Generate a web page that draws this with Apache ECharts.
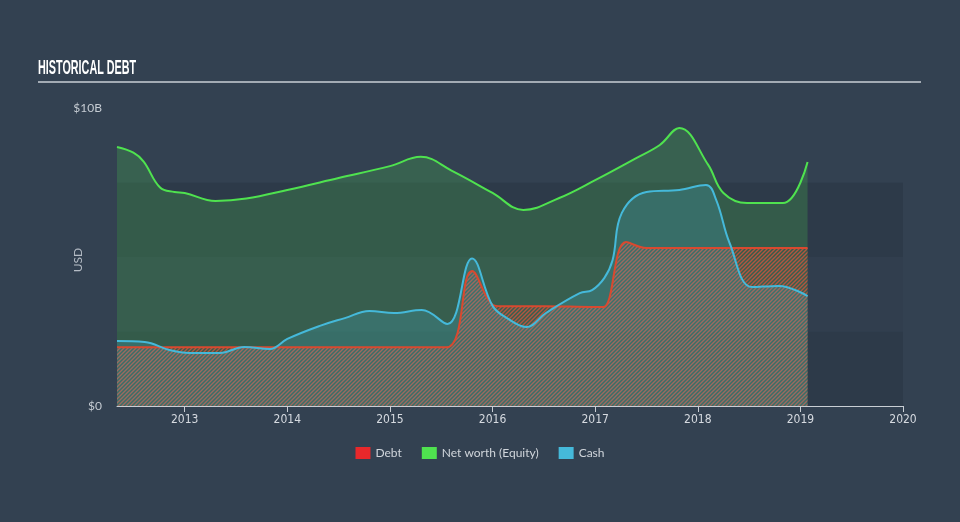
<!DOCTYPE html>
<html>
<head>
<meta charset="utf-8">
<script src="https://cdn.jsdelivr.net/npm/echarts@6/dist/echarts.min.js"></script>
<style>
html,body{margin:0;padding:0;background:#334151;}
#c{width:960px;height:522px;}
</style>
</head>
<body>
<div id="c"></div>
<script>
// ---- data (years as decimal, values in $B) ----
var equityYears = [2012.34, 2012.5, 2012.6, 2012.76, 2012.9, 2013.0, 2013.3, 2013.6, 2014.0, 2014.5, 2015.0, 2015.3, 2015.6, 2016.0, 2016.3, 2016.65, 2017.0, 2017.4, 2017.63, 2017.82, 2018.1, 2018.25, 2018.48, 2018.83, 2019.07];
var equityValues = [8.69, 8.5, 8.2, 7.33, 7.18, 7.15, 6.88, 6.96, 7.25, 7.65, 8.05, 8.36, 7.9, 7.15, 6.58, 6.98, 7.58, 8.32, 8.76, 9.33, 8.1, 7.15, 6.81, 6.81, 8.19];

var cashYears = [2012.34, 2012.61, 2012.85, 2013.05, 2013.34, 2013.58, 2013.83, 2014.0, 2014.31, 2014.56, 2014.8, 2015.04, 2015.31, 2015.56, 2015.8, 2016.0, 2016.14, 2016.33, 2016.52, 2016.85, 2016.97, 2017.09, 2017.17, 2017.26, 2017.5, 2017.82, 2018.08, 2018.18, 2018.31, 2018.53, 2018.79, 2019.07];
var cashValues = [2.18, 2.15, 1.88, 1.78, 1.78, 1.98, 1.91, 2.25, 2.68, 2.95, 3.19, 3.12, 3.22, 2.75, 4.95, 3.36, 2.95, 2.65, 3.12, 3.79, 3.89, 4.3, 4.9, 6.48, 7.18, 7.25, 7.42, 6.91, 5.47, 3.99, 4.03, 3.69];

var debtYears = [2012.34, 2013.0, 2014.0, 2015.0, 2015.55, 2015.8, 2016.0, 2016.08, 2016.5, 2017.0, 2017.08, 2017.3, 2017.5, 2018.0, 2018.5, 2019.07];
var debtValues = [1.97, 1.97, 1.97, 1.97, 1.97, 4.53, 3.4, 3.35, 3.35, 3.32, 3.32, 5.5, 5.3, 5.3, 5.3, 5.3];

var xTickLabels = [2013, 2014, 2015, 2016, 2017, 2018, 2019, 2020];
var yTickLabels = {0: '$0', 10: '$10B'};

function pairs(xs, ys) { return xs.map(function (x, i) { return [x, ys[i]]; }); }

// hatch pattern for debt area
var pc = document.createElement('canvas');
var P = 4;
pc.width = P; pc.height = P;
var g = pc.getContext('2d');
g.strokeStyle = 'rgba(222,84,60,0.75)';
g.lineWidth = 1.4;
g.beginPath();
g.moveTo(-1, 1); g.lineTo(1, -1);
g.moveTo(0, P); g.lineTo(P, 0);
g.moveTo(P - 1, P + 1); g.lineTo(P + 1, P - 1);
g.stroke();

var chart = echarts.init(document.getElementById('c'), null, {renderer: 'canvas'});
var axisFont = '"DejaVu Sans Condensed","Liberation Sans Narrow",sans-serif';
chart.setOption({
  backgroundColor: '#334151',
  animation: false,
  grid: {left: 117, right: 57, top: 108, bottom: 116},
  graphic: [
    {type: 'text', x: 38, y: 68, scaleX: 0.54, style: {text: 'HISTORICAL DEBT', fill: '#ffffff', textVerticalAlign: 'middle', font: 'bold 20px "Liberation Sans","DejaVu Sans",sans-serif'}},
    {type: 'line', shape: {x1: 38, y1: 82, x2: 921, y2: 82}, style: {stroke: '#a3abb4', lineWidth: 2}},
    {type: 'text', x: 78, y: 260, rotation: Math.PI / 2, style: {text: 'USD', fill: '#b5bcc5', textAlign: 'center', textVerticalAlign: 'middle', font: '12px Lato, sans-serif'}}
  ],
  legend: {
    bottom: 58, left: 'center', icon: 'rect', itemWidth: 15, itemHeight: 12, itemGap: 20, itemStyle: {borderWidth: 0},
    textStyle: {color: '#d0d5db', fontSize: 12, fontFamily: 'Lato, sans-serif'},
    data: [
      {name: 'Debt', itemStyle: {color: '#e8282b'}},
      {name: 'Net worth (Equity)', itemStyle: {color: '#4fe24f'}},
      {name: 'Cash', itemStyle: {color: '#45b9da'}}
    ]
  },
  xAxis: {
    type: 'value', min: 2012.34, max: 2020,
    axisLine: {show: true, lineStyle: {color: '#c9ced4', width: 1}},
    axisTick: {show: true, customValues: xTickLabels, length: 6, lineStyle: {color: '#c9ced4'}},
    axisLabel: {customValues: xTickLabels, color: '#d6dae0', fontSize: 12, fontFamily: axisFont, margin: 8, formatter: function (v) { return String(v); }},
    splitLine: {show: false}
  },
  yAxis: {
    type: 'value', min: 0, max: 10, interval: 2.5,
    axisLine: {show: false}, axisTick: {show: false},
    axisLabel: {color: '#c5cbd2', fontSize: 12, fontFamily: 'Lato, sans-serif', margin: 15,
      formatter: function (v) { return yTickLabels[v] !== undefined ? yTickLabels[v] : ''; }},
    splitLine: {show: false},
    splitArea: {show: true, areaStyle: {color: ['#2d3a49', '#313e4e', '#2d3a49', '#334151']}}
  },
  series: [
    {
      name: 'Net worth (Equity)', type: 'line', data: pairs(equityYears, equityValues),
      smooth: 0.4, showSymbol: false,
      itemStyle: {color: '#4fe24f'},
      lineStyle: {color: '#4fe24f', width: 2},
      areaStyle: {color: 'rgba(78,226,78,0.2)', opacity: 1}
    },
    {
      name: 'Debt', type: 'line', data: pairs(debtYears, debtValues),
      smooth: 0.4, showSymbol: false,
      itemStyle: {color: '#e8282b'},
      lineStyle: {color: '#d9492f', width: 2},
      areaStyle: {color: {image: pc, repeat: 'repeat'}, opacity: 1}
    },
    {
      name: 'Cash', type: 'line', data: pairs(cashYears, cashValues),
      smooth: 0.4, showSymbol: false,
      itemStyle: {color: '#45b9da'},
      lineStyle: {color: '#45b9da', width: 2},
      areaStyle: {color: 'rgba(69,185,218,0.21)', opacity: 1}
    }
  ]
});
</script>
</body>
</html>
